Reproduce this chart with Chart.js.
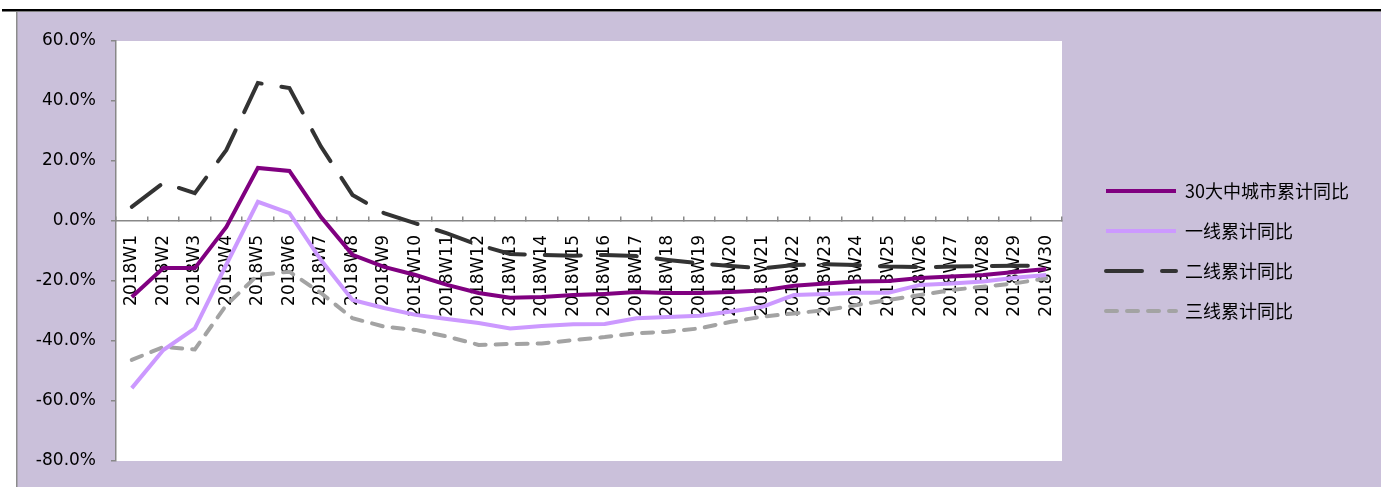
<!DOCTYPE html>
<html>
<head>
<meta charset="utf-8">
<script src="https://cdn.jsdelivr.net/npm/chart.js@4.4.1/dist/chart.umd.min.js"></script>
<style>
  html, body { margin: 0; padding: 0; background: #fff; }
  #wrap { width: 1381px; height: 487px; }
</style>
</head>
<body>
<div id="wrap"><canvas id="c" width="1381" height="487"></canvas></div>
<script>
// week labels on the category axis
var weeks = ['2018W1', '2018W2', '2018W3', '2018W4', '2018W5', '2018W6', '2018W7', '2018W8', '2018W9', '2018W10',
             '2018W11', '2018W12', '2018W13', '2018W14', '2018W15', '2018W16', '2018W17', '2018W18', '2018W19', '2018W20',
             '2018W21', '2018W22', '2018W23', '2018W24', '2018W25', '2018W26', '2018W27', '2018W28', '2018W29', '2018W30'];

// cumulative YoY, in percent
var city30 = [-25.3, -15.7, -15.7, -2, 17.7, 16.7, 1.3, -11.3, -15.3, -18,
              -21.3, -24, -25.6, -25.3, -24.7, -24.3, -23.7, -24, -24, -23.7,
              -23.2, -21.6, -20.8, -20.2, -20, -19, -18.5, -18, -17, -16];
var tier1 = [-55.7, -43, -35.8, -14.5, 6.4, 2.6, -13, -26.3, -29, -31.3,
             -32.7, -34, -35.8, -35, -34.4, -34.3, -32.4, -32, -31.6, -30.2,
             -28.6, -24.7, -24.3, -23.9, -23.9, -21.3, -20.8, -20.2, -18.9, -18];
var tier2 = [4.7, 12.7, 9.3, 23.7, 46, 44.3, 24.8, 8.7, 2.6, -0.8,
             -4.1, -8, -11, -11.3, -11.6, -11.3, -11.7, -13, -14.1, -15,
             -15.8, -14.7, -14.4, -14.7, -15.2, -15.4, -15.2, -15, -14.9, -15];
var tier3 = [-46.3, -42, -42.8, -28, -18, -16.9, -24, -32.4, -35.2, -36.3,
             -38.5, -41.3, -41, -40.8, -39.7, -38.7, -37.4, -36.9, -35.8, -33.6,
             -31.9, -30.8, -29.7, -28, -26.3, -24.7, -23, -21.9, -20.8, -19.1];

var seriesNames = ['30大中城市累计同比', '一线累计同比', '二线累计同比', '三线累计同比'];
var yTicks = { min: -80, max: 60, step: 20 };

var tickFont = { family: 'DejaVu Sans', size: 17 };
var axisGray = '#888888';
var plotRight = 1062;
var legendGap = 22;

// page frame: white page, black rule on top, lilac panel, white plot area
var frame = {
    id: 'frame',
    afterLayout: function( chart ) {
        // push the legend away from the plot edge (its clip box moves with it)
        if ( chart.legend ) {
            chart.legend.left += legendGap;
            chart.legend.right += legendGap;
        }
    },
    beforeDraw: function( chart ) {
        var ctx = chart.ctx, a = chart.chartArea;
        ctx.save();
        ctx.fillStyle = '#ffffff';
        ctx.fillRect( 0, 0, chart.width, chart.height );
        ctx.fillStyle = '#CAC0DA';
        ctx.fillRect( 17, 12, chart.width - 17, chart.height - 12 );
        ctx.fillStyle = '#000000';
        ctx.fillRect( 2, 9, chart.width - 2, 2.5 );
        ctx.fillStyle = '#8c8c8c';
        ctx.fillRect( 16, 12, 1.5, chart.height - 12 );
        ctx.fillStyle = '#ffffff';
        ctx.fillRect( a.left, a.top, a.right - a.left, a.bottom - a.top );
        ctx.restore();
    }
};

function line( label, data, color, dash, cap ) {
    return {
        label: label,
        data: data,
        borderColor: color,
        backgroundColor: color,
        borderWidth: 4,
        borderDash: dash,
        borderCapStyle: cap,
        pointRadius: 0,
        tension: 0,
        fill: false
    };
}

var chart = new Chart( document.getElementById( 'c' ), {
    type: 'line',
    data: {
        labels: weeks,
        datasets: [
            line( seriesNames[ 0 ], city30, '#800080', [], 'butt' ),
            line( seriesNames[ 1 ], tier1, '#CC99FF', [], 'butt' ),
            line( seriesNames[ 2 ], tier2, '#333333', [ 36, 20 ], 'round' ),
            line( seriesNames[ 3 ], tier3, '#A3A3A3', [ 11, 10 ], 'round' )
        ]
    },
    options: {
        responsive: false,
        animation: false,
        layout: { padding: { top: 41, bottom: 26, left: 0, right: 20 } },
        plugins: {
            tooltip: { enabled: false },
            legend: {
                position: 'right',
                align: 'center',
                labels: {
                    usePointStyle: true,
                    pointStyle: 'line',
                    pointStyleWidth: 70,
                    padding: 22,
                    color: '#000000',
                    font: { family: '"Noto Sans CJK SC", "DejaVu Sans"', size: 18 },
                    // point style drops the dash, so copy it back from the datasets
                    generateLabels: function( c ) {
                        var items = Chart.defaults.plugins.legend.labels.generateLabels( c );
                        items.forEach( function( it ) {
                            var ds = c.data.datasets[ it.datasetIndex ];
                            it.lineDash = ds.borderDash;
                            it.lineCap = ds.borderCapStyle;
                        });
                        return items;
                    }
                }
            }
        },
        scales: {
            x: {
                position: { y: 0 },
                offset: true,
                grid: { drawOnChartArea: false, drawTicks: true, tickLength: -5, offset: true, color: axisGray, lineWidth: 1.5 },
                border: { display: true, color: axisGray, width: 1.5 },
                ticks: { autoSkip: false, minRotation: 90, maxRotation: 90, padding: 19, color: '#000000', font: tickFont },
                afterFit: function( s ) { s.height = 0; }
            },
            y: {
                min: yTicks.min,
                max: yTicks.max,
                grid: { drawOnChartArea: false, drawTicks: true, tickLength: 5, color: axisGray, lineWidth: 1.5 },
                border: { display: true, color: axisGray, width: 1.5 },
                ticks: {
                    stepSize: yTicks.step,
                    padding: 15,
                    color: '#000000',
                    font: tickFont,
                    callback: function( v ) { return v.toFixed( 1 ) + '%'; }
                },
                afterFit: function( s ) { s.width = 116; }
            }
        }
    },
    plugins: [ frame ]
});

// line the plot's right edge up with the reference
var shift = chart.chartArea.right - plotRight;
if ( Math.abs( shift ) > 0.5 ) {
    chart.options.layout.padding.right += shift;
    chart.update();
}
</script>
</body>
</html>
